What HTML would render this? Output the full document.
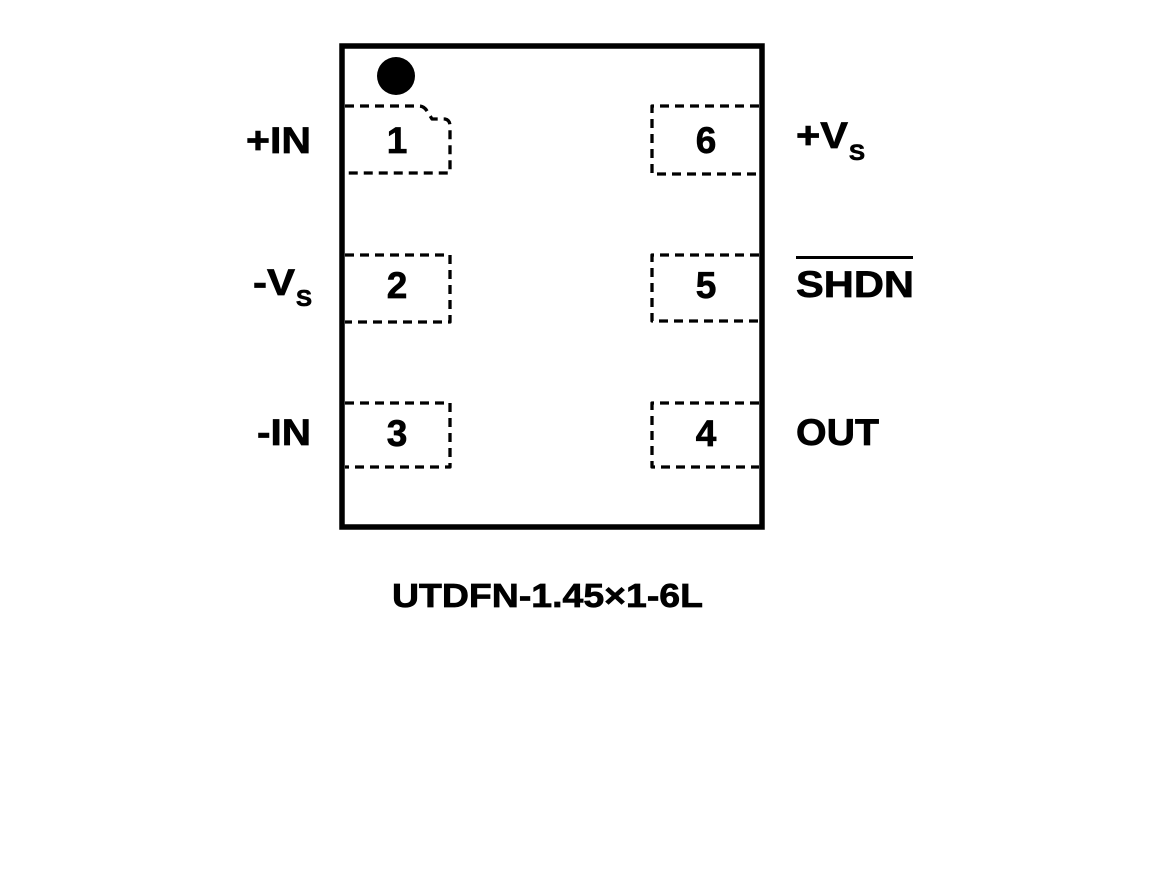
<!DOCTYPE html>
<html>
<head>
<meta charset="utf-8">
<style>
html,body{margin:0;padding:0;background:#fff;}
svg{display:block;}
text{font-family:"Liberation Sans",Arial,sans-serif;font-weight:bold;fill:#000;stroke:#000;stroke-width:0.7px;}
</style>
</head>
<body>
<svg width="1168" height="870" viewBox="0 0 1168 870" xmlns="http://www.w3.org/2000/svg">
<rect x="0" y="0" width="1168" height="870" fill="#fff"/>
<!-- package body -->
<rect x="342" y="46" width="420" height="481" fill="none" stroke="#000" stroke-width="5.5"/>
<!-- pin 1 dot -->
<circle cx="396" cy="76" r="19" fill="#000"/>
<!-- pads -->
<g fill="none" stroke="#000" stroke-width="3.3" stroke-dasharray="9 6" stroke-linejoin="round">
<path d="M345,106 H419 Q424,106 427,111 L432,119 H445 Q450,120 450,126 V173 H345"/>
<path d="M345,255 H450 V322 H345"/>
<path d="M345,403 H450 V467 H345"/>
<path d="M759,106 H652 V174 H759"/>
<path d="M759,255 H652 V321 H759"/>
<path d="M759,403 H652 V467 H759"/>
</g>
<!-- pin numbers -->
<g font-size="37" text-anchor="middle">
<text x="397" y="153">1</text>
<text x="397" y="298">2</text>
<text x="397" y="446">3</text>
<text x="706" y="153">6</text>
<text x="706" y="298">5</text>
<text x="706" y="446">4</text>
</g>
<!-- left labels -->
<text x="246" y="153" font-size="37" textLength="65" lengthAdjust="spacingAndGlyphs">+IN</text>
<text x="253" y="295" font-size="37" textLength="42" lengthAdjust="spacingAndGlyphs">-V</text>
<text x="296" y="306" font-size="23" textLength="16" lengthAdjust="spacingAndGlyphs">S</text>
<text x="257" y="445" font-size="37" textLength="54" lengthAdjust="spacingAndGlyphs">-IN</text>
<!-- right labels -->
<text x="796" y="148" font-size="37" textLength="52" lengthAdjust="spacingAndGlyphs">+V</text>
<text x="849" y="160" font-size="22" textLength="16" lengthAdjust="spacingAndGlyphs">S</text>
<text x="796" y="297" font-size="37" textLength="118" lengthAdjust="spacingAndGlyphs">SHDN</text>
<rect x="796" y="256" width="117" height="3" fill="#000"/>
<text x="796" y="445" font-size="37" textLength="83" lengthAdjust="spacingAndGlyphs">OUT</text>
<!-- caption -->
<text x="392" y="607" font-size="33" textLength="311" lengthAdjust="spacingAndGlyphs">UTDFN-1.45×1-6L</text>
</svg>
</body>
</html>
